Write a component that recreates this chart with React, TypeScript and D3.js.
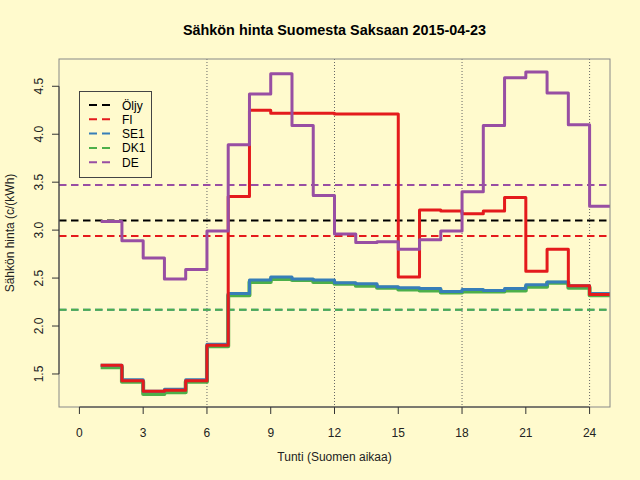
import * as React from "react";
import * as d3 from "d3";

// hourly prices, c/kWh, hour 1..24 (Finnish time)
const hours = [1, 2, 3, 4, 5, 6, 7, 8, 9, 10, 11, 12, 13, 14, 15, 16, 17, 18, 19, 20, 21, 22, 23, 24];
const fi = [1.59, 1.43, 1.32, 1.33, 1.43, 1.80, 3.35, 4.25, 4.22, 4.22, 4.22, 4.21, 4.21, 4.21, 2.51, 3.21, 3.20, 3.17, 3.20, 3.34, 2.57, 2.80, 2.42, 2.33];
const se1 = [1.59, 1.44, 1.32, 1.34, 1.44, 1.81, 2.34, 2.48, 2.51, 2.49, 2.48, 2.45, 2.44, 2.41, 2.40, 2.39, 2.36, 2.38, 2.37, 2.39, 2.43, 2.46, 2.42, 2.34];
const dk1 = [1.57, 1.42, 1.29, 1.31, 1.42, 1.79, 2.32, 2.46, 2.49, 2.48, 2.46, 2.44, 2.42, 2.40, 2.38, 2.37, 2.35, 2.36, 2.36, 2.37, 2.41, 2.45, 2.40, 2.32];
const de = [3.09, 2.89, 2.71, 2.49, 2.59, 2.99, 3.89, 4.42, 4.63, 4.09, 3.36, 2.96, 2.87, 2.88, 2.80, 2.90, 2.99, 3.40, 4.09, 4.59, 4.65, 4.43, 4.10, 3.25];

// dashed reference levels (oil + daily averages)
const legendLabels = ["Öljy", "FI", "SE1", "DK1", "DE"];
const legendColors = ["#000000", "#E41A1C", "#377EB8", "#4DAF4A", "#984EA3"];
const levels = [3.10, 2.94, 2.17, 2.17, 3.47];

const xTicks = [0, 3, 6, 9, 12, 15, 18, 21, 24];
const yTicks = [1.5, 2.0, 2.5, 3.0, 3.5, 4.0, 4.5];
const gridHours = [6, 12, 18, 24];

const W = 640, H = 480;
const left = 59, right = 610, top = 59, bottom = 407;
const bg = "#FFFACD";
const font = "'Liberation Sans', Arial, Helvetica, sans-serif";

export default function App() {
    const all = [...fi, ...se1, ...dk1, ...de];
    const yMin = d3.min(all) || 0, yMax = d3.max(all) || 0;
    const yPad = (yMax - yMin) * 0.04;
    const x = d3.scaleLinear().domain([0 - 24 * 0.04, 24 + 24 * 0.04]).range([left, right]);
    const y = d3.scaleLinear().domain([yMin - yPad, yMax + yPad]).range([bottom, top]);

    const stepLine = d3.line<[number, number]>()
        .x(d => x(d[0]))
        .y(d => y(d[1]))
        .curve(d3.curveStepAfter);

    const toPoints = (vals: number[]) => {
        const pts = hours.map<[number, number]>((h, i) => [h, vals[i]]);
        pts.push([hours[hours.length - 1] + 1, vals[vals.length - 1]]);
        return pts;
    };

    // drawn in this order: DK1 under, then SE1, FI, DE on top
    const series = [
        { vals: dk1, color: legendColors[3], width: 4 },
        { vals: se1, color: legendColors[2], width: 3 },
        { vals: fi, color: legendColors[1], width: 3 },
        { vals: de, color: legendColors[4], width: 3 },
    ];

    return <svg width={W} height={H} style={{ position: "absolute", left: 0, top: 0 }} fontFamily={font}>
        <rect x={0} y={0} width={W} height={H} fill={bg} />
        <defs>
            <clipPath id="plotClip">
                <rect x={left} y={top} width={right - left} height={bottom - top} />
            </clipPath>
        </defs>

        <text x={(left + right) / 2} y={35} textAnchor="middle" fontSize={14.4} fontWeight="bold" fill="#000">
            Sähkön hinta Suomesta Saksaan 2015-04-23
        </text>

        <g clipPath="url(#plotClip)">
            {gridHours.map(h => <line key={h} x1={x(h)} x2={x(h)} y1={top} y2={bottom}
                stroke="#666" strokeWidth={1} strokeDasharray="1,2" />)}
            {levels.map((v, i) => <line key={i} x1={left} x2={right} y1={y(v)} y2={y(v)}
                stroke={legendColors[i]} strokeWidth={2} strokeDasharray="7.5,4.5" />)}
            {series.map((s, i) => <path key={i} d={stepLine(toPoints(s.vals)) || ""}
                fill="none" stroke={s.color} strokeWidth={s.width} strokeLinejoin="round" />)}
        </g>

        <rect x={left} y={top} width={right - left} height={bottom - top} fill="none" stroke="#888" strokeWidth={1} />

        {/* x axis */}
        <line x1={x(xTicks[0])} x2={x(xTicks[xTicks.length - 1])} y1={bottom} y2={bottom} stroke="#333" />
        {xTicks.map(t => <g key={t}>
            <line x1={x(t)} x2={x(t)} y1={bottom} y2={bottom + 7} stroke="#333" />
            <text x={x(t)} y={437} textAnchor="middle" fontSize={12} fill="#222">{t}</text>
        </g>)}
        <text x={(left + right) / 2} y={461} textAnchor="middle" fontSize={12} fill="#222">Tunti (Suomen aikaa)</text>

        {/* y axis */}
        <line x1={left} x2={left} y1={y(yTicks[0])} y2={y(yTicks[yTicks.length - 1])} stroke="#333" />
        {yTicks.map(t => <g key={t}>
            <line x1={left - 7} x2={left} y1={y(t)} y2={y(t)} stroke="#333" />
            <text transform={`translate(43,${y(t)}) rotate(-90)`} textAnchor="middle" fontSize={12} fill="#222">{t.toFixed(1)}</text>
        </g>)}
        <text transform={`translate(14,${(top + bottom) / 2}) rotate(-90)`} textAnchor="middle" fontSize={12} fill="#222">Sähkön hinta (c/(kWh)</text>

        {/* legend */}
        <rect x={79.5} y={91.5} width={72} height={86} fill={bg} stroke="#444" strokeWidth={1} />
        {legendLabels.map((lab, i) => {
            const ry = 105 + i * 14.3;
            return <g key={lab}>
                <line x1={89} x2={110} y1={ry} y2={ry} stroke={legendColors[i]} strokeWidth={2} strokeDasharray="8,5" />
                <text x={122} y={ry + 4.5} fontSize={12} fill="#000">{lab}</text>
            </g>;
        })}
    </svg>;
}
